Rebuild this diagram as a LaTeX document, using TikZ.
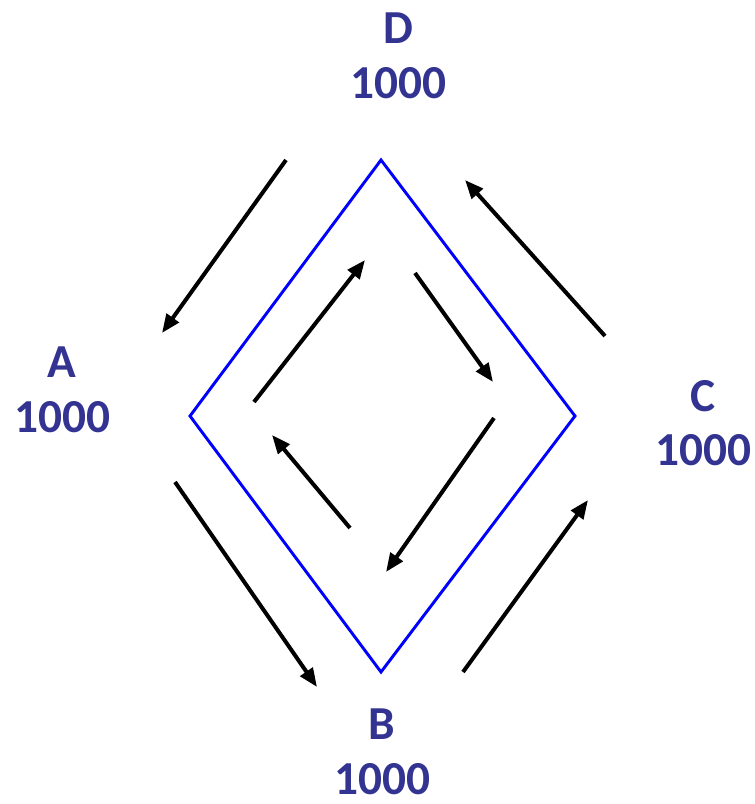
\documentclass[tikz,border=0pt]{standalone}
\usepackage{fontspec}
\setmainfont{Carlito}
\usetikzlibrary{arrows.meta}
\definecolor{lblue}{RGB}{51,51,145}
\tikzset{
 lbl/.style={text=lblue,font=\fontsize{35.5}{40}\selectfont\bfseries,align=center,inner sep=0pt},
 flow/.style={-{Triangle[length=14pt,width=11pt]},line width=3pt,black}
}

\begin{document}
\begin{tikzpicture}[x=0.75pt,y=-0.75pt]
 \useasboundingbox (0,0) rectangle (754,804);
 % diamond
 \coordinate (D) at (381,160);
 \coordinate (A) at (190,416);
 \coordinate (B) at (381,672);
 \coordinate (C) at (575,416);
 \draw[blue,line width=2.2pt] (D)--(A)--(B)--(C)--cycle;
 % labels
 \node[lbl] (labD) at (398,56) {D\\[1pt]1000};
 \node[lbl] (labA) at (62,390) {A\\[1pt]1000};
 \node[lbl] (labC) at (703,423) {C\\[1pt]1000};
 \node[lbl] (labB) at (382,752) {B\\[1pt]1000};
 % outer flows
 \coordinate (o1s) at (286,160); \coordinate (o1e) at (162,333);
 \coordinate (o2s) at (175,482); \coordinate (o2e) at (317,687);
 \coordinate (o3s) at (463,672); \coordinate (o3e) at (588,500);
 \coordinate (o4s) at (605,336); \coordinate (o4e) at (465,180);
 \draw[flow] (o1s)--(o1e);
 \draw[flow] (o2s)--(o2e);
 \draw[flow] (o3s)--(o3e);
 \draw[flow] (o4s)--(o4e);
 % inner flows
 \coordinate (i1s) at (254,402); \coordinate (i1e) at (365,260);
 \coordinate (i2s) at (415,273); \coordinate (i2e) at (493,382);
 \coordinate (i3s) at (494,418); \coordinate (i3e) at (386,572);
 \coordinate (i4s) at (350,528); \coordinate (i4e) at (272,435);
 \draw[flow] (i1s)--(i1e);
 \draw[flow] (i2s)--(i2e);
 \draw[flow] (i3s)--(i3e);
 \draw[flow] (i4s)--(i4e);
\end{tikzpicture}
\end{document}
